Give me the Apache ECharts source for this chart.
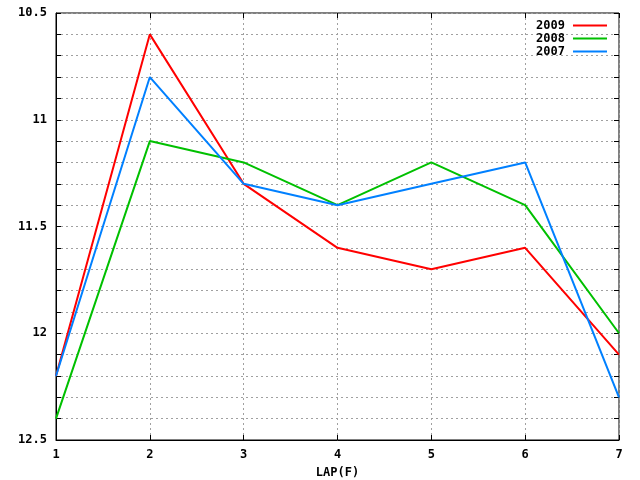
<!DOCTYPE html>
<html><head><meta charset="utf-8">
<script src="https://cdn.jsdelivr.net/npm/echarts@6/dist/echarts.min.js"></script>
<style>html,body{margin:0;padding:0;background:#fff}#c{width:640px;height:480px}</style>
</head><body><div id="c"></div>
<script>
var laps = [1, 2, 3, 4, 5, 6, 7];
var s2009 = [12.2, 10.6, 11.3, 11.6, 11.7, 11.6, 12.1];
var s2008 = [12.4, 11.1, 11.2, 11.4, 11.2, 11.4, 12.0];
var s2007 = [12.2, 10.8, 11.3, 11.4, 11.3, 11.2, 12.3];
var seriesNames = ['2009', '2008', '2007'];
var seriesColors = ['#ff0000', '#00c000', '#0080ff'];
var seriesData = [s2009, s2008, s2007];

var font = 'DejaVu Sans Mono';
var chart = echarts.init(document.getElementById('c'));
function pairs(arr){ return laps.map(function(x,i){ return [x, arr[i]]; }); }
var gridLine = {show:true, lineStyle:{color:'#a0a0a0', type:[2,3], width:1}};
chart.setOption({
  animation:false,
  backgroundColor:'#fff',
  grid:{left:56, right:21, top:13, bottom:40, show:true, borderColor:'#000', borderWidth:1, backgroundColor:'transparent', outerBoundsMode:'none', containLabel:false},
  legend:{
    orient:'vertical', right:33, top:19, align:'right', itemGap:0, padding:0,
    itemWidth:34, itemHeight:2, icon:'rect',
    textStyle:{fontFamily:font, fontWeight:'bold', fontSize:12, color:'#000', lineHeight:13, padding:[0,3,0,0]},
    data:seriesNames
  },
  xAxis:[{
    type:'value', min:1, max:7, interval:1,
    name:'LAP(F)', nameLocation:'middle', nameGap:27,
    nameTextStyle:{fontFamily:font, fontWeight:'bold', fontSize:12, color:'#000'},
    axisLine:{show:true, lineStyle:{color:'#000', width:1}},
    axisTick:{show:true, inside:true, length:5, lineStyle:{color:'#000'}},
    axisLabel:{fontFamily:font, fontWeight:'bold', fontSize:12, color:'#000', margin:9},
    splitLine:gridLine
  },{
    type:'value', min:1, max:7, interval:1, position:'top',
    axisLine:{show:false}, axisTick:{show:true, inside:true, length:5, lineStyle:{color:'#000'}},
    axisLabel:{show:false}, splitLine:{show:false}
  }],
  yAxis:[{
    type:'value', min:10.5, max:12.5, interval:0.1, inverse:true,
    axisLine:{show:true, lineStyle:{color:'#000', width:1}},
    axisTick:{show:true, inside:true, length:5, lineStyle:{color:'#000'}},
    axisLabel:{fontFamily:font, fontWeight:'bold', fontSize:12, color:'#000', margin:9,
      formatter:function(v){ var d=v*2; if (Math.abs(d-Math.round(d))<1e-6) return String(Math.round(d)/2); return ''; }},
    splitLine:gridLine
  },{
    type:'value', min:10.5, max:12.5, interval:0.1, inverse:true, position:'right',
    axisLine:{show:false}, axisTick:{show:true, inside:true, length:5, lineStyle:{color:'#000'}},
    axisLabel:{show:false}, splitLine:{show:false}
  }],
  series: seriesNames.map(function(n,i){
    return {name:n, type:'line', data:pairs(seriesData[i]), symbol:'none',
      lineStyle:{color:seriesColors[i], width:2}, itemStyle:{color:seriesColors[i]}};
  })
});
</script></body></html>
